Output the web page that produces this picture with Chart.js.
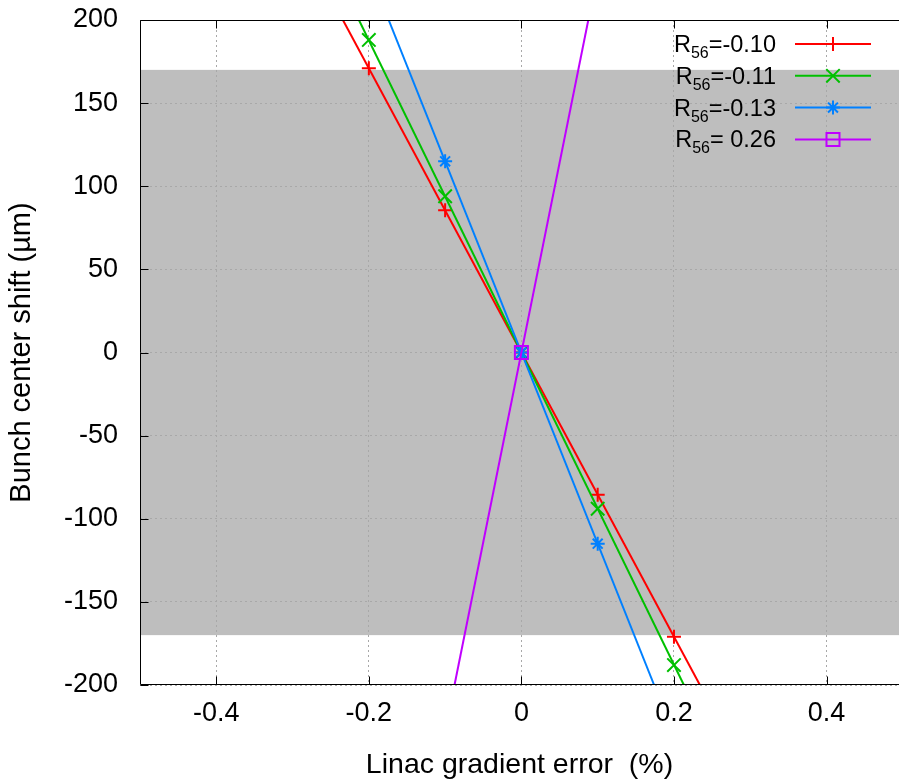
<!DOCTYPE html>
<html><head><meta charset="utf-8">
<style>html,body{margin:0;padding:0;overflow:hidden;background:#fff;width:899px;height:781px}</style>
<script src="https://cdn.jsdelivr.net/npm/chart.js@4.4.1/dist/chart.umd.min.js"></script>
</head><body><canvas id="c" width="899" height="781"></canvas>
<script>
// ---- data ----
const xTicks = [-0.4, -0.2, 0, 0.2, 0.4];
const yTicks = [-200, -150, -100, -50, 0, 50, 100, 150, 200];
const xRange = [-0.5, 0.495];   // right end of the plot is cut by the picture edge
const yRange = [-200, 200];
const bandRange = [-170, 170];
const seriesNames = ['-0.10', '-0.11', '-0.13', ' 0.26'];
const xTitle = 'Linac gradient error  (%)';
const yTitle = 'Bunch center shift (\u00b5m)';

const redMarkX = [-0.2, -0.1, 0, 0.1, 0.2];
const redMarkY = [171, 85.5, 0, -85.5, -171];
const greenMarkX = [-0.2, -0.1, 0, 0.1, 0.2];
const greenMarkY = [188, 94, 0, -94, -188];
const blueMarkX = [-0.1, 0, 0.1];
const blueMarkY = [115, 0, -115];
const purpleMarkX = [0];
const purpleMarkY = [0];

const redLineX = [-0.234, 0.234];
const redLineY = [200, -200];
const greenLineX = [-0.213, 0.213];
const greenLineY = [200, -200];
const blueLineX = [-0.174, 0.174];
const blueLineY = [200, -200];
const purpleLineX = [-0.0877, 0.0877];
const purpleLineY = [-200, 200];

// ---- styles ----
const FONT = "'Liberation Sans', Arial, Helvetica, sans-serif";
const styles = [
  {color: '#ff0000', pointStyle: 'cross', radius: 7},
  {color: '#00c000', pointStyle: 'crossRot', radius: 9.5},
  {color: '#0080ff', pointStyle: 'star', radius: 7},
  {color: '#c000ff', pointStyle: 'rect', radius: 9.2}
];
const lineXs = [redLineX, greenLineX, blueLineX, purpleLineX];
const lineYs = [redLineY, greenLineY, blueLineY, purpleLineY];
const markXs = [redMarkX, greenMarkX, blueMarkX, purpleMarkX];
const markYs = [redMarkY, greenMarkY, blueMarkY, purpleMarkY];
const pts = (xs, ys) => xs.map((x, i) => ({x: x, y: ys[i]}));

const datasets = [];
styles.forEach((s, i) => {
  datasets.push({
    label: 'R56=' + seriesNames[i],
    data: pts(lineXs[i], lineYs[i]),
    showLine: true, borderColor: s.color, borderWidth: 2,
    pointRadius: 0, order: 20 - 2 * i
  });
  datasets.push({
    label: 'R56=' + seriesNames[i] + ' markers',
    data: pts(markXs[i], markYs[i]),
    showLine: false, pointStyle: s.pointStyle, pointRadius: s.radius,
    pointBorderColor: s.color, pointBackgroundColor: 'rgba(0,0,0,0)',
    pointBorderWidth: 2, order: 19 - 2 * i
  });
});

const bandPlugin = {
  id: 'band',
  beforeDraw(chart) {
    const {ctx, chartArea: a, scales: {y}} = chart;
    const y1 = y.getPixelForValue(bandRange[1]);
    const y0 = y.getPixelForValue(bandRange[0]);
    ctx.save();
    ctx.fillStyle = '#bebebe';
    ctx.fillRect(a.left, y1, a.right - a.left, y0 - y1);
    ctx.restore();
  }
};

const framePlugin = {
  id: 'frame',
  afterDraw(chart) {
    const {ctx, chartArea: a, scales: {x, y}} = chart;
    ctx.save();
    ctx.strokeStyle = '#000';
    ctx.lineWidth = 1;
    const L = Math.round(a.left) + 0.5, R = a.right;
    const T = Math.round(a.top) + 0.5, B = Math.round(a.bottom) - 0.5;
    ctx.beginPath();
    ctx.moveTo(R, T); ctx.lineTo(L, T); ctx.lineTo(L, B); ctx.lineTo(R, B);
    const tl = 8;
    xTicks.forEach(v => {
      const px = Math.round(x.getPixelForValue(v)) + 0.5;
      ctx.moveTo(px, B); ctx.lineTo(px, B - tl);
      ctx.moveTo(px, T); ctx.lineTo(px, T + tl);
    });
    yTicks.forEach(v => {
      const py = Math.round(y.getPixelForValue(v)) + 0.5;
      ctx.moveTo(L, py); ctx.lineTo(L + tl, py);
    });
    ctx.stroke();

    // legend
    const textRight = 776, lineL = 795, lineR = 871, rowTop = 44, rowStep = 31.8;
    styles.forEach((s, i) => {
      const ry = rowTop + i * rowStep;
      ctx.fillStyle = '#000';
      ctx.textBaseline = 'alphabetic';
      ctx.textAlign = 'left';
      const base = ry + 8;
      ctx.font = '23.5px ' + FONT;
      const rest = '=' + seriesNames[i];
      const wRest = ctx.measureText(rest).width;
      const wR = ctx.measureText('R').width;
      ctx.font = '16px ' + FONT;
      const wSub = ctx.measureText('56').width;
      let xs = textRight - wRest - wSub - wR;
      ctx.font = '23.5px ' + FONT;
      ctx.fillText('R', xs, base);
      ctx.font = '16px ' + FONT;
      ctx.fillText('56', xs + wR, base + 6);
      ctx.font = '23.5px ' + FONT;
      ctx.fillText(rest, xs + wR + wSub, base);
      ctx.strokeStyle = s.color;
      ctx.lineWidth = 2;
      ctx.beginPath(); ctx.moveTo(lineL, ry); ctx.lineTo(lineR, ry); ctx.stroke();
      ctx.fillStyle = 'rgba(0,0,0,0)';
      Chart.helpers.drawPoint(ctx, {pointStyle: s.pointStyle, radius: s.radius, rotation: 0, borderWidth: 2}, (lineL + lineR) / 2, ry);
    });
    ctx.restore();
  }
};

new Chart(document.getElementById('c'), {
  type: 'scatter',
  data: {datasets},
  options: {
    animation: false, responsive: false, devicePixelRatio: 1,
    layout: {autoPadding: false, padding: {top: 20, right: 0, left: 0, bottom: 0}},
    plugins: {legend: {display: false}, tooltip: {enabled: false}},
    scales: {
      x: {
        type: 'linear', min: xRange[0], max: xRange[1],
        afterBuildTicks: s => { s.ticks = xTicks.map(v => ({value: v})); },
        afterFit: s => { s.height = 96; s.paddingLeft = 0; s.paddingRight = 0; },
        grid: {color: '#a8a8a8', lineWidth: 1, drawTicks: false},
        border: {display: false, dash: [2, 3]},
        ticks: {color: '#000', font: {family: FONT, size: 27}, padding: 12, maxRotation: 0, autoSkip: false, callback: v => String(v)},
        title: {display: true, text: xTitle, color: '#000', font: {family: FONT, size: 28.5, lineHeight: 1}, padding: {top: 0, bottom: 2}}
      },
      y: {
        type: 'linear', min: yRange[0], max: yRange[1],
        afterBuildTicks: s => { s.ticks = yTicks.map(v => ({value: v})); },
        afterFit: s => { s.width = 140; s.paddingTop = 0; s.paddingBottom = 0; },
        grid: {color: '#a8a8a8', lineWidth: 1, drawTicks: false},
        border: {display: false, dash: [2, 3]},
        ticks: {color: '#000', font: {family: FONT, size: 27}, padding: 22, autoSkip: false, callback: v => String(v)},
        title: {display: true, text: yTitle, color: '#000', font: {family: FONT, size: 29, lineHeight: 1}, padding: {top: 7, bottom: 0}}
      }
    }
  },
  plugins: [bandPlugin, framePlugin]
});
</script></body></html>
